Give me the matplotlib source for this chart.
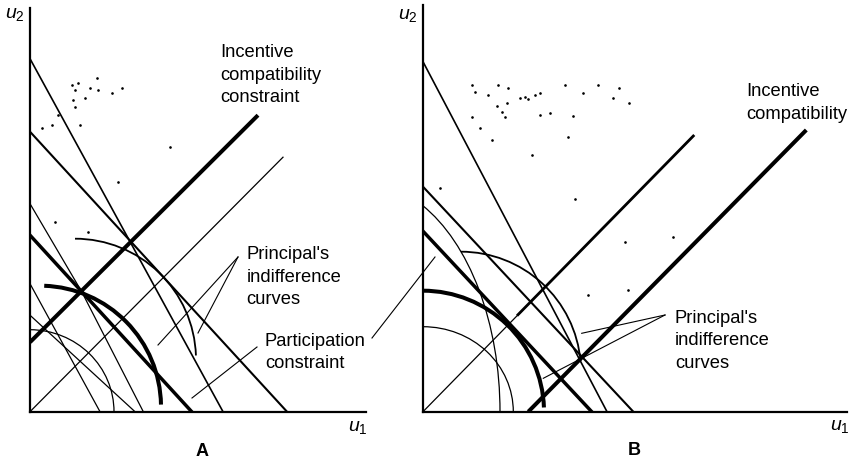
import matplotlib
matplotlib.use("Agg")
import matplotlib.pyplot as plt
from matplotlib.patches import Arc

plt.rcParams['font.family'] = ['Liberation Sans', 'DejaVu Sans']
plt.rcParams['mathtext.fontset'] = 'custom'
plt.rcParams['mathtext.it'] = 'Liberation Sans:italic'
plt.rcParams['mathtext.rm'] = 'Liberation Sans'
plt.rcParams['mathtext.bf'] = 'Liberation Sans:bold'

W, H = 850, 466

# ---------------- Panel A data (units measured from the origin) ----------
a_diag_x, a_diag_y = [0, 253], [0, 254.5]          # 45-degree line
a_ic_x, a_ic_y = [0, 228], [69.5, 296.5]           # incentive compatibility
a_l1_x, a_l1_y = [0, 257], [280, 0]                # agent indifference (outer)
a_l2_x, a_l2_y = [0, 193], [353, 0]                # steep line (outer)
a_pc_x, a_pc_y = [0, 161.7], [176.5, 0]            # participation constraint
a_l4_x, a_l4_y = [0, 51.7, 113.3], [208, 120, 0]   # steep line (inner)
a_l5_x, a_l5_y = [0, 70], [128, 0]
a_l6_x, a_l6_y = [0, 105], [96.5, 0]
# arcs: centre x, centre y, radius x, radius y, start angle, end angle
a_arc_thick = (10, 5, 121, 121, 1, 88)
a_arc_upper = (45, 52, 121, 121, 2, 90)
a_arc_inner = (0, 0, 84, 82, 0, 90)
# scanning specks
a_speck_x = [41.7, 45, 48.3, 43.3, 45, 55, 60, 66.7, 68.3, 81.7, 91.7, 28.3,
             21.7, 11.7, 50, 140, 88.3, 25, 58.3]
a_speck_y = [326.7, 321.7, 328.4, 311.7, 305, 313.4, 323.4, 333.4, 321.7,
             318.4, 323.4, 296.7, 286.7, 283.4, 286.7, 265, 230, 190, 180]

# ---------------- Panel B data ----------------
b_diag_x, b_diag_y = [0, 270.3], [0, 275.7]
b_diag_hatch_x, b_diag_hatch_y = [95, 270.3], [97, 275.7]
b_ic_x, b_ic_y = [105.3, 383.3], [0, 281.7]
b_l1_x, b_l1_y = [0, 210.3], [225, 0]
b_l2_x, b_l2_y = [0, 184], [350, 0]
b_pc_x, b_pc_y = [0, 168.7], [180.5, 0]
b_arc_thick = (0, 0, 121, 121, 2, 90)
b_arc_upper = (38, 40, 120, 120, 5, 90)
b_arc_inner = (0, 0, 90.3, 85, 0, 90)
b_arc_steep = (-60, 0, 137, 229, 0, 74)
b_speck_x = [48.7, 52, 65.3, 75.3, 85.3, 73.7, 83.7, 78.7, 82, 97, 102, 105.3,
             112, 117, 117, 127, 142, 160.3, 175.3, 190.3, 196, 206.3, 150.3,
             145.3, 108.7, 152, 48.7, 57, 68.7, 17, 202, 250.3, 165.3, 205.3]
b_speck_y = [326.7, 320, 316.7, 326.7, 323.4, 305.7, 308.4, 300, 295, 313.4,
             315, 312.4, 316.7, 319, 296.7, 298.4, 326.7, 319, 326.7, 314,
             323.4, 309, 295.7, 275, 256.7, 212.7, 295, 283.4, 271.7, 223.4,
             170, 175, 116.7, 121.7]

THIN, MED, THICK = 0.9, 1.5, 2.9

fig = plt.figure(figsize=(8.5, 4.66), dpi=100)


def make_axes(left_px, right_px, top_px, origin_px):
    ax = fig.add_axes([left_px / W, (H - origin_px) / H,
                       (right_px - left_px) / W, (origin_px - top_px) / H])
    ax.set_xlim(0, right_px - left_px)
    ax.set_ylim(0, origin_px - top_px)
    for s in ('top', 'right'):
        ax.spines[s].set_visible(False)
    for s in ('left', 'bottom'):
        ax.spines[s].set_linewidth(1.6)
    ax.set_xticks([])
    ax.set_yticks([])
    ax.patch.set_alpha(0)
    return ax


def arc(ax, spec, lw):
    cx, cy, rx, ry, t1, t2 = spec
    ax.add_patch(Arc((cx, cy), 2 * rx, 2 * ry, theta1=t1, theta2=t2,
                     color='black', lw=lw))


axA = make_axes(30, 366, 8, 411.7)
axB = make_axes(423, 847, 5, 411.7)

# ---- Panel A ----
axA.plot(a_diag_x, a_diag_y, color='black', lw=THIN)
axA.plot(a_ic_x, a_ic_y, color='black', lw=THICK, solid_capstyle='butt')
axA.plot(a_l1_x, a_l1_y, color='black', lw=MED)
axA.plot(a_l2_x, a_l2_y, color='black', lw=1.2)
axA.plot(a_pc_x, a_pc_y, color='black', lw=THICK - 0.4)
axA.plot(a_l4_x, a_l4_y, color='black', lw=THIN)
axA.plot(a_l5_x, a_l5_y, color='black', lw=THIN)
axA.plot(a_l6_x, a_l6_y, color='black', lw=THIN)
arc(axA, a_arc_thick, THICK)
arc(axA, a_arc_upper, 1.3)
arc(axA, a_arc_inner, THIN)
axA.plot(a_speck_x, a_speck_y, ls='none', marker='.', ms=1.8, color='black')

txt = dict(fontsize=13.2, color='black', linespacing=1.42, va='top', ha='left')
axA.text(190, 367.5, "Incentive\ncompatibility\nconstraint", **txt)
axA.text(216.7, 165.5, "Principal's\nindifference\ncurves", **txt)
axA.text(235, 79, "Participation\nconstraint", **txt)
axA.plot([208, 128], [154.7, 66.7], color='black', lw=0.8)
axA.plot([208, 168], [154.7, 78.7], color='black', lw=0.8)
axA.plot([227, 162], [64.7, 13.7], color='black', lw=0.8)
axA.plot([342, 405], [73.7, 154.7], color='black', lw=0.8, clip_on=False)

axA.text(-15, 397.7, r'$u_2$', fontsize=14, ha='center', va='center',
         fontweight='bold')
axA.text(328, -15.5, r'$u_1$', fontsize=14, ha='center', va='center')
axA.text(172, -39.5, "A", fontsize=13, fontweight='bold', ha='center',
         va='center')

# ---- Panel B ----
axB.plot(b_diag_x, b_diag_y, color='black', lw=THIN)
axB.plot(b_diag_hatch_x, b_diag_hatch_y, color='black', lw=2.0)
axB.plot(b_ic_x, b_ic_y, color='black', lw=THICK, solid_capstyle='butt')
axB.plot(b_l1_x, b_l1_y, color='black', lw=MED)
axB.plot(b_l2_x, b_l2_y, color='black', lw=1.2)
axB.plot(b_pc_x, b_pc_y, color='black', lw=THICK - 0.4)
arc(axB, b_arc_thick, THICK)
arc(axB, b_arc_upper, 1.3)
arc(axB, b_arc_inner, THIN)
arc(axB, b_arc_steep, THIN)
axB.plot(b_speck_x, b_speck_y, ls='none', marker='.', ms=1.8, color='black')

axB.text(323.7, 328.4, "Incentive\ncompatibility", **txt)
axB.text(252, 101.7, "Principal's\nindifference\ncurves", **txt)
axB.plot([242, 158.7], [96.7, 78.4], color='black', lw=0.8)
axB.plot([242, 120.3], [96.7, 33.4], color='black', lw=0.8)

axB.text(-15, 396.7, r'$u_2$', fontsize=14, ha='center', va='center',
         fontweight='bold')
axB.text(417, -14.5, r'$u_1$', fontsize=14, ha='center', va='center')
axB.text(211, -38.5, "B", fontsize=13, fontweight='bold', ha='center',
         va='center')

fig.savefig("out.png", dpi=100, facecolor='white')
